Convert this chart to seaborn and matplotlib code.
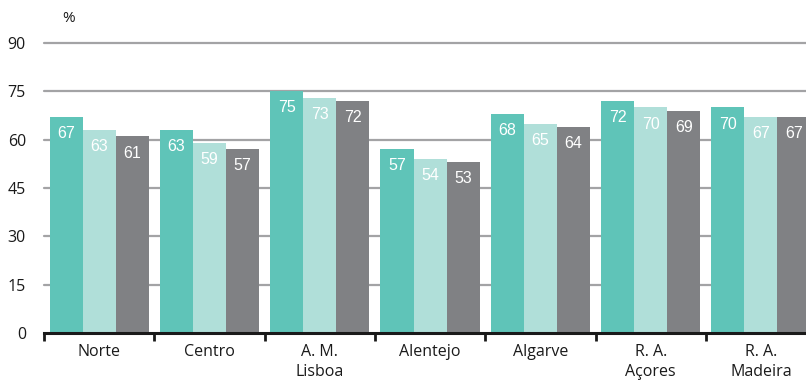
""" Grouped bars by region, three series """

import matplotlib.pyplot as plt
import numpy as np
import pandas as pd
import seaborn as sns

regions = ['Norte', 'Centro', 'A. M.\nLisboa', 'Alentejo', 'Algarve',
           'R. A.\nAçores', 'R. A.\nMadeira']
series = ['s1', 's2', 's3']
values_s1 = [67, 63, 75, 57, 68, 72, 70]
values_s2 = [63, 59, 73, 54, 65, 70, 67]
values_s3 = [61, 57, 72, 53, 64, 69, 67]
yticks = [0, 15, 30, 45, 60, 75, 90]

COLORS = ['#5fc4b8', '#b0dfd9', '#808184']
GRID_COLOR = '#a3a3a5'

sns.set_theme(style='white')
plt.rcParams['font.family'] = ['Open Sans', 'DejaVu Sans']

df = pd.DataFrame({
    'region': regions * 3,
    'series': [s for s in series for _ in regions],
    'value': values_s1 + values_s2 + values_s3,
})

fig = plt.figure(figsize=(8.06, 3.89), dpi=100)
ax = fig.add_axes([44 / 806, 56 / 389, 1 - 44 / 806, 290 / 389])

sns.barplot(data=df, x='region', y='value', hue='series', order=regions,
            hue_order=series, palette=COLORS, width=0.9, saturation=1,
            linewidth=0, legend=False, ax=ax, zorder=2)

# value labels inside bars
for cont in ax.containers:
    for p in cont:
        ax.annotate(f'{p.get_height():.0f}',
                    (p.get_x() + p.get_width() / 2, p.get_height()),
                    xytext=(0, -12), textcoords='offset points',
                    ha='center', va='center', color='white', fontsize=11.5,
                    family='Liberation Sans', zorder=3)

ax.set_yticks(yticks)
ax.tick_params(axis='y', length=0, pad=13, labelsize=11.5, labelcolor='#1a1a1a')
for y in yticks[1:]:
    ax.axhline(y, color=GRID_COLOR, lw=1.6, zorder=1, clip_on=False)

# ticks at group boundaries, labels at centres
ax.set_xticks(np.arange(-0.5, len(regions), 1))
ax.set_xticklabels([])
ax.set_xticks(np.arange(len(regions)), minor=True)
ax.set_xticklabels(regions, minor=True, fontsize=11.5, color='#1a1a1a',
                   linespacing=1.35, va='top')
ax.tick_params(axis='x', which='major', length=6, width=2, color='#1a1a1a',
               direction='out', bottom=True)
ax.tick_params(axis='x', which='minor', length=0, pad=8)

# limits last, set_xticks would widen them
ax.set_ylim(0, 90)
ax.set_xlim(-0.5, -0.5 + 762 / 110.3)

for side in ['top', 'right', 'left']:
    ax.spines[side].set_visible(False)
ax.spines['bottom'].set_color('#1a1a1a')
ax.spines['bottom'].set_linewidth(2.2)
ax.spines['bottom'].set_zorder(4)

ax.set_xlabel('')
ax.set_ylabel('')
fig.text(62 / 806, 1 - 18 / 389, '%', fontsize=11, color='#1a1a1a',
         ha='left', va='center')

fig.savefig('out.png', dpi=100)
